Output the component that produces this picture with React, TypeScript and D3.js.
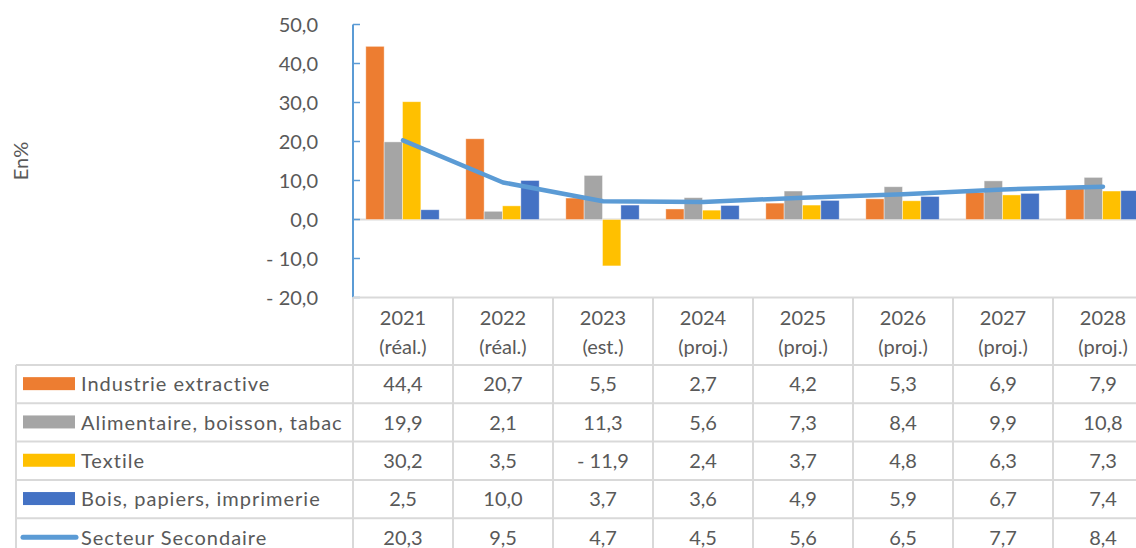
import React, { useEffect, useRef } from "react";
import * as d3 from "d3";

const years = ["2021", "2022", "2023", "2024", "2025", "2026", "2027", "2028"];
const yearNotes = ["(réal.)", "(réal.)", "(est.)", "(proj.)", "(proj.)", "(proj.)", "(proj.)", "(proj.)"];

const barSeries = [
  "Industrie extractive",
  "Alimentaire, boisson, tabac",
  "Textile",
  "Bois, papiers, imprimerie",
];
const lineSeries = "Secteur Secondaire";

const extractive = [44.4, 20.7, 5.5, 2.7, 4.2, 5.3, 6.9, 7.9];
const alimentaire = [19.9, 2.1, 11.3, 5.6, 7.3, 8.4, 9.9, 10.8];
const textile = [30.2, 3.5, -11.9, 2.4, 3.7, 4.8, 6.3, 7.3];
const bois = [2.5, 10.0, 3.7, 3.6, 4.9, 5.9, 6.7, 7.4];
const secondaire = [20.3, 9.5, 4.7, 4.5, 5.6, 6.5, 7.7, 8.4];

const yTicks = [-20, -10, 0, 10, 20, 30, 40, 50];

const colors = ["#ED7D31", "#A5A5A5", "#FFC000", "#4472C4"];
const lineColor = "#5B9BD5";
const gridColor = "#D9D9D9";
const textColor = "#595959";

const fmt = (v: number) => {
  const s = d3.format(".1f")(Math.abs(v)).replace(".", ",");
  return v < 0 ? "- " + s : s;
};

export default function App() {
  const ref = useRef<SVGSVGElement>(null);

  useEffect(() => {
    const svg = d3.select(ref.current);
    svg.selectAll("*").remove();

    const width = 1136;
    const axisX = 353;
    const colW = 100;
    const font = "Lato, 'Open Sans', sans-serif";
    const fs = 20;

    const barValues = [extractive, alimentaire, textile, bois];

    const x = d3
      .scaleBand()
      .domain(years)
      .range([axisX, axisX + colW * years.length])
      .padding(0);

    const xInner = d3
      .scaleBand()
      .domain(barSeries)
      .range([12.8, 86.2])
      .padding(0);

    const y = d3.scaleLinear().domain([-20, 50]).range([297.5, 24.5]);

    // zero line
    svg
      .append("line")
      .attr("x1", axisX)
      .attr("x2", width)
      .attr("y1", y(0))
      .attr("y2", y(0))
      .attr("stroke", gridColor)
      .attr("stroke-width", 2);

    // bars
    barSeries.forEach((name, si) => {
      svg
        .append("g")
        .selectAll("rect")
        .data(barValues[si])
        .enter()
        .append("rect")
        .attr("x", (d, i) => (x(years[i]) as number) + (xInner(name) as number))
        .attr("y", (d) => y(Math.max(0, d)))
        .attr("width", xInner.bandwidth())
        .attr("height", (d) => Math.abs(y(d) - y(0)))
        .attr("fill", colors[si])
        .attr("stroke", "#ffffff")
        .attr("stroke-opacity", 0.5)
        .attr("stroke-width", 0.8);
    });

    // line series
    const line = d3
      .line<number>()
      .x((d, i) => (x(years[i]) as number) + x.bandwidth() / 2)
      .y((d) => y(d));

    svg
      .append("path")
      .datum(secondaire)
      .attr("d", line)
      .attr("fill", "none")
      .attr("stroke", lineColor)
      .attr("stroke-width", 4.5)
      .attr("stroke-linecap", "round")
      .attr("stroke-linejoin", "round");

    // y axis
    svg
      .append("line")
      .attr("x1", axisX)
      .attr("x2", axisX)
      .attr("y1", y(50))
      .attr("y2", y(-20))
      .attr("stroke", lineColor)
      .attr("stroke-width", 2);

    svg
      .append("g")
      .selectAll("line")
      .data(yTicks)
      .enter()
      .append("line")
      .attr("x1", axisX)
      .attr("x2", axisX + 7)
      .attr("y1", (d) => y(d))
      .attr("y2", (d) => y(d))
      .attr("stroke", lineColor)
      .attr("stroke-width", 1.5);

    svg
      .append("g")
      .selectAll("text")
      .data(yTicks)
      .enter()
      .append("text")
      .attr("x", 318)
      .attr("y", (d) => y(d))
      .attr("dy", "0.36em")
      .attr("text-anchor", "end")
      .attr("font-family", font)
      .attr("font-size", fs)
      .attr("fill", textColor)
      .text((d) => fmt(d));

    svg
      .append("text")
      .attr("transform", `translate(28, 161) rotate(-90)`)
      .attr("text-anchor", "middle")
      .attr("font-family", font)
      .attr("font-size", fs)
      .attr("fill", textColor)
      .text("En%");

    // data table
    const headTop = y(-20);
    const rowTop = 365;
    const rowH = 38.3;
    const allRows = [...barValues, secondaire];
    const rowNames = [...barSeries, lineSeries];
    const tableBottom = 560;

    const grid = svg.append("g").attr("stroke", gridColor).attr("stroke-width", 2);

    grid
      .append("line")
      .attr("x1", axisX)
      .attr("x2", width)
      .attr("y1", headTop)
      .attr("y2", headTop);

    rowNames.forEach((n, r) => {
      grid
        .append("line")
        .attr("x1", 16)
        .attr("x2", width)
        .attr("y1", rowTop + r * rowH)
        .attr("y2", rowTop + r * rowH);
    });

    grid
      .append("line")
      .attr("x1", 16)
      .attr("x2", 16)
      .attr("y1", rowTop)
      .attr("y2", tableBottom);

    grid
      .selectAll("line.col")
      .data(years)
      .enter()
      .append("line")
      .attr("class", "col")
      .attr("x1", (d) => x(d) as number)
      .attr("x2", (d) => x(d) as number)
      .attr("y1", headTop)
      .attr("y2", tableBottom);

    // header labels
    const head = svg
      .append("g")
      .attr("font-family", font)
      .attr("font-size", fs)
      .attr("fill", textColor)
      .attr("text-anchor", "middle");

    years.forEach((yr, i) => {
      const cx = (x(yr) as number) + x.bandwidth() / 2;
      head.append("text").attr("x", cx).attr("y", 325).text(yr);
      head.append("text").attr("x", cx).attr("y", 354).text(yearNotes[i]);
    });

    // values
    const cells = svg
      .append("g")
      .attr("font-family", font)
      .attr("font-size", fs)
      .attr("fill", textColor);

    allRows.forEach((vals, r) => {
      const cy = rowTop + r * rowH + rowH / 2;
      cells
        .append("g")
        .selectAll("text")
        .data(vals)
        .enter()
        .append("text")
        .attr("x", (d, i) => (x(years[i]) as number) + x.bandwidth() / 2)
        .attr("y", cy)
        .attr("dy", "0.36em")
        .attr("text-anchor", "middle")
        .text((d) => fmt(d));

      // legend key
      if (r < barSeries.length) {
        cells
          .append("rect")
          .attr("x", 23)
          .attr("y", cy - 7)
          .attr("width", 52)
          .attr("height", 13)
          .attr("fill", colors[r]);
      } else {
        cells
          .append("line")
          .attr("x1", 23)
          .attr("x2", 76)
          .attr("y1", cy)
          .attr("y2", cy)
          .attr("stroke", lineColor)
          .attr("stroke-width", 5)
          .attr("stroke-linecap", "round");
      }
      cells
        .append("text")
        .attr("x", 81)
        .attr("y", cy)
        .attr("dy", "0.36em")
        .attr("letter-spacing", 1)
        .text(rowNames[r]);
    });
  }, []);

  return (
    <svg
      ref={ref}
      width={1136}
      height={548}
      style={{ position: "fixed", top: 0, left: 0, background: "#fff" }}
    />
  );
}
